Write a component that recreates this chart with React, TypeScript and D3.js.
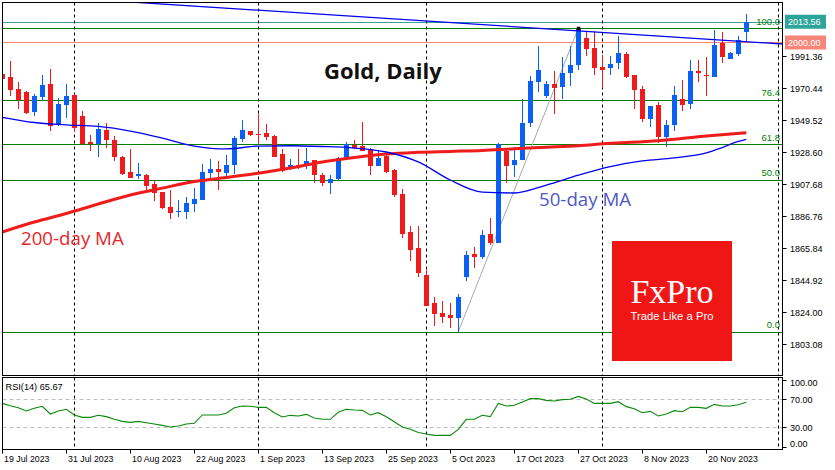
import React from "react";
import * as d3 from "d3";

// ---------------- DATA ----------------
const startDate = "2023-07-19"; // first daily bar (weekdays only)

const opens = [
  1979.4, 1977.4, 1969.6, 1967.6, 1954.7, 1964.5, 1972.9, 1946.5, 1959.3, 1965.7,
  1951.9, 1934.9, 1933.6, 1942.8, 1936.2, 1925.3, 1915.1, 1912.9, 1913.4, 1907.5,
  1902.2, 1892.4, 1889.4, 1889.4, 1894.6, 1897.2, 1914.9, 1917.3, 1914.7, 1920.1,
  1937.1, 1942.1, 1940.4, 1940.8, 1938.9, 1927.1, 1918.1, 1920.1, 1919.4, 1923.2,
  1913.6, 1908.3, 1910.9, 1923.6, 1933.2, 1932.5, 1930.5, 1919.4, 1926.0, 1916.8,
  1900.9, 1876.1, 1865.6, 1848.0, 1829.7, 1823.1, 1822.0, 1820.0, 1846.7, 1861.7,
  1859.7, 1874.8, 1868.9, 1929.0, 1920.1, 1923.2, 1947.5, 1974.4, 1965.0, 1972.7,
  1971.1, 1980.2, 1985.1, 2002.7, 1996.2, 1984.1, 1983.5, 1986.4, 1992.5, 1978.7,
  1969.6, 1950.0, 1959.1, 1938.4, 1946.0, 1962.8, 1959.8, 1981.3, 1978.7, 1977.6,
  1999.5, 1989.4, 1992.5, 2006.8,
];
const highs = [
  1980.7, 1987.9, 1974.2, 1968.0, 1966.1, 1978.7, 1982.7, 1963.7, 1973.1, 1966.0,
  1955.2, 1939.5, 1947.4, 1947.4, 1938.9, 1925.6, 1930.4, 1921.2, 1913.7, 1910.1,
  1902.4, 1903.6, 1897.0, 1899.2, 1905.0, 1920.5, 1923.8, 1922.5, 1926.4, 1938.9,
  1949.3, 1942.4, 1953.3, 1946.7, 1939.5, 1930.4, 1923.8, 1930.4, 1931.2, 1923.5,
  1914.7, 1913.4, 1925.3, 1935.1, 1936.2, 1948.0, 1930.8, 1929.9, 1927.5, 1917.0,
  1904.2, 1880.0, 1880.0, 1851.0, 1833.8, 1830.8, 1829.5, 1835.6, 1863.7, 1866.1,
  1877.6, 1885.2, 1934.0, 1929.7, 1931.9, 1962.8, 1978.1, 1997.7, 1974.5, 1981.3,
  1990.7, 1997.7, 2009.3, 2007.0, 2007.7, 1991.8, 1991.2, 2004.4, 1993.6, 1979.0,
  1971.5, 1958.8, 1961.3, 1949.3, 1971.5, 1975.5, 1988.5, 1988.5, 1990.7, 2008.2,
  2006.6, 1993.6, 2004.2, 2018.6,
];
const lows = [
  1974.8, 1965.2, 1956.7, 1953.3, 1952.1, 1961.9, 1942.3, 1945.6, 1950.8, 1941.3,
  1933.3, 1929.2, 1924.9, 1931.2, 1922.7, 1913.2, 1911.3, 1910.9, 1902.0, 1896.6,
  1891.1, 1884.8, 1886.1, 1884.8, 1889.4, 1897.0, 1911.6, 1903.7, 1912.9, 1914.2,
  1935.1, 1939.1, 1934.5, 1936.4, 1925.0, 1915.5, 1916.4, 1917.5, 1917.1, 1907.9,
  1906.4, 1901.1, 1909.9, 1923.4, 1930.2, 1928.8, 1913.6, 1919.2, 1914.9, 1899.2,
  1872.4, 1857.3, 1846.5, 1827.7, 1814.8, 1816.8, 1813.5, 1810.9, 1844.1, 1852.7,
  1858.4, 1867.6, 1868.7, 1908.3, 1912.2, 1923.0, 1944.5, 1967.8, 1964.0, 1953.3,
  1962.8, 1971.5, 1982.0, 1991.2, 1978.7, 1970.0, 1978.7, 1982.7, 1976.6, 1956.3,
  1947.8, 1944.9, 1934.1, 1931.9, 1942.3, 1955.2, 1956.5, 1974.4, 1965.0, 1977.4,
  1986.8, 1989.2, 1991.2, 2000.1,
];
const closes = [
  1976.1, 1969.1, 1962.2, 1953.7, 1965.0, 1972.0, 1945.6, 1959.8, 1965.0, 1944.3,
  1933.6, 1933.6, 1943.4, 1936.2, 1925.3, 1914.2, 1911.6, 1914.2, 1906.4, 1901.8,
  1891.8, 1888.7, 1890.0, 1895.0, 1897.7, 1915.3, 1917.3, 1915.3, 1919.9, 1937.7,
  1942.8, 1939.7, 1939.7, 1938.4, 1925.3, 1916.0, 1920.1, 1918.8, 1922.5, 1913.6,
  1908.3, 1910.9, 1924.5, 1933.4, 1931.2, 1929.0, 1919.4, 1924.3, 1915.1, 1900.3,
  1874.8, 1864.3, 1849.1, 1827.9, 1822.7, 1820.7, 1820.0, 1833.8, 1861.0, 1859.9,
  1874.1, 1868.9, 1933.6, 1919.4, 1923.2, 1947.5, 1974.8, 1982.0, 1972.7, 1970.4,
  1980.2, 1985.3, 2008.6, 1995.5, 1983.1, 1982.0, 1985.7, 1993.3, 1977.2, 1968.9,
  1949.8, 1958.5, 1938.4, 1945.8, 1965.7, 1959.3, 1981.3, 1980.2, 1978.1, 1998.4,
  1990.7, 1993.3, 2001.6, 2013.56,
];

const rsiValues = [
  64.2, 60.9, 58.0, 53.3, 57.1, 60.0, 49.0, 53.3, 55.7, 47.6,
  44.2, 44.2, 47.1, 45.2, 41.4, 38.5, 37.1, 38.5, 36.6, 34.7,
  32.8, 30.4, 31.9, 34.7, 35.7, 47.6, 47.6, 47.6, 50.0, 58.0,
  60.4, 60.0, 58.5, 58.5, 50.9, 44.7, 47.1, 46.1, 48.5, 43.3,
  41.4, 41.4, 51.4, 55.7, 54.7, 54.2, 47.6, 50.9, 45.2, 38.0,
  30.4, 27.1, 22.5, 20.4, 18.5, 18.5, 18.5, 27.1, 41.4, 41.4,
  47.1, 45.2, 64.2, 60.4, 61.4, 66.1, 70.9, 70.9, 68.5, 67.6,
  69.5, 70.0, 74.2, 70.4, 64.2, 64.2, 64.2, 66.6, 59.5, 56.6,
  50.9, 52.8, 46.1, 49.0, 53.8, 52.3, 58.5, 58.5, 57.1, 62.8,
  60.4, 60.4, 62.3, 65.67,
];

// moving averages, read at sampled bars
const ma50Bars = [0, 4, 8, 12, 16, 20, 24, 28, 32, 36, 40, 44, 48, 52, 56, 60, 64, 68, 72, 76, 80, 84, 88, 90, 92, 93];
const ma50Values = [
  1951.1, 1947.7, 1946.2, 1945.1, 1942.1, 1937.5, 1932.3, 1930.4, 1932.3, 1932.5,
  1932.0, 1931.0, 1928.4, 1921.9, 1910.1, 1902.2, 1901.6, 1906.8, 1913.3, 1918.9,
  1922.6, 1924.5, 1927.8, 1931.3, 1935.3, 1936.7,
];
const ma200Bars = [0, 4, 8, 12, 16, 20, 24, 28, 32, 36, 40, 44, 48, 52, 56, 60, 64, 68, 72, 76, 80, 84, 88, 93];
const ma200Values = [
  1876.1, 1882.6, 1888.2, 1894.4, 1900.3, 1904.8, 1909.1, 1911.7, 1914.5, 1917.9,
  1921.9, 1924.8, 1927.1, 1928.2, 1928.8, 1929.4, 1930.5, 1931.5, 1932.5, 1934.1,
  1935.1, 1936.7, 1938.8, 1941.0,
];

const priceTicks = [1991.36, 1970.44, 1949.52, 1928.6, 1907.68, 1886.76, 1865.84, 1844.92, 1824.0, 1803.08];
const rsiTicks = [100, 70, 30, 0];
const rsiLevels = [70, 30];
const timeTickLabels = [
  "19 Jul 2023", "31 Jul 2023", "10 Aug 2023", "22 Aug 2023", "1 Sep 2023", "13 Sep 2023",
  "25 Sep 2023", "5 Oct 2023", "17 Oct 2023", "27 Oct 2023", "8 Nov 2023", "20 Nov 2023",
];
const separatorDates = ["2023-08-01", "2023-09-01", "2023-10-02", "2023-11-01", "2023-12-01"];

const fibLevels = [0, 50, 61.8, 76.4, 100];
const fibLowBar = 57;
const fibLowPrice = 1810.9;
const fibHighBar = 72;
const fibHighPrice = 2009.3;

const trendBars = [18, 97];
const trendPrices = [2025.8, 1999.2];

const lastPrice = 2013.56;
const roundLevel = 2000.0;
const rsiPeriod = 14;

// ---------------- HELPERS ----------------
function tradingDays(start: string, n: number): Date[] {
  const out: Date[] = [];
  const d = new Date(start + "T00:00:00Z");
  while (out.length < n) {
    const wd = d.getUTCDay();
    if (wd !== 0 && wd !== 6) out.push(new Date(d.getTime()));
    d.setUTCDate(d.getUTCDate() + 1);
  }
  return out;
}
function barIndexOf(start: string, date: string): number {
  const a = new Date(start + "T00:00:00Z");
  const b = new Date(date + "T00:00:00Z");
  let n = 0;
  const d = new Date(a.getTime());
  while (d < b) {
    const wd = d.getUTCDay();
    if (wd !== 0 && wd !== 6) n++;
    d.setUTCDate(d.getUTCDate() + 1);
  }
  return n;
}

const W = 835;
const H = 470;
const L = 2.5;
const R = 782.5;
const T = 2.5;
const B = 375.5;
const RT = 377.5;
const RB = 449.5;

const AXIS_FONT = "'Liberation Sans', Arial, sans-serif";

export default function App() {
  const n = closes.length;
  const dates = tradingDays(startDate, n);
  const fmt = d3.utcFormat("%-d %b %Y");

  const x = d3.scaleLinear().domain([0, 97]).range([2.3, 778.3]);
  const y = d3.scaleLinear().domain([1803.08, 1991.36]).range([343.7, 55.7]);
  const yr = d3.scaleLinear().domain([0, 100]).range([448.3, 378.3]);

  const bull = "#0a5ff5";
  const bear = "#f01a1a";

  const candles = d3.range(n).map((i) => {
    const cx = Math.floor(x(i));
    const o = opens[i], c = closes[i];
    const up = c >= o;
    const yTop = Math.round(y(Math.max(o, c)));
    const yBot = Math.round(y(Math.min(o, c)));
    const col = up ? bull : bear;
    return (
      <g key={i}>
        <line x1={cx + 0.5} x2={cx + 0.5} y1={Math.round(y(highs[i]))} y2={Math.round(y(lows[i]))} stroke={col} strokeWidth={1} />
        <rect x={cx - 2} y={yTop} width={5} height={Math.max(1, yBot - yTop)} fill={col} />
      </g>
    );
  });

  const maLine = d3
    .line<[number, number]>()
    .x((d) => x(d[0]))
    .y((d) => y(d[1]))
    .curve(d3.curveMonotoneX);
  const ma50Path = maLine(ma50Bars.map((b, k) => [b, ma50Values[k]]));
  const ma200Path = maLine(ma200Bars.map((b, k) => [b, ma200Values[k]]));

  const rsiLine = d3
    .line<number>()
    .x((_, i) => x(i))
    .y((v) => yr(v));
  const rsiPath = rsiLine(rsiValues);

  const tickIdx = timeTickLabels.map((lab) => dates.findIndex((d) => fmt(d) === lab));
  const sepIdx = separatorDates.map((d) => barIndexOf(startDate, d));

  const fibRange = fibHighPrice - fibLowPrice;

  // trend line (ray to the right)
  const slope = (trendPrices[1] - trendPrices[0]) / (trendBars[1] - trendBars[0]);
  const trendEndBar = x.invert(R);
  const trendEndPrice = trendPrices[0] + slope * (trendEndBar - trendBars[0]);

  return (
    <div style={{ position: "absolute", left: 0, top: 0 }}>
      <svg width={W} height={H} style={{ display: "block", background: "#fff" }}>
        <defs>
          <clipPath id="plot">
            <rect x={L} y={T} width={R - L} height={B - T} />
          </clipPath>
          <clipPath id="rsi">
            <rect x={L} y={RT} width={R - L} height={RB - RT} />
          </clipPath>
        </defs>

        {/* MAIN PANEL */}
        <g clipPath="url(#plot)">
          {/* fib levels */}
          {fibLevels.map((lv) => {
            const yy = Math.round(y(fibLowPrice + (fibRange * lv) / 100)) + 0.5;
            return <line key={lv} x1={L} x2={R} y1={yy} y2={yy} stroke="#008000" strokeWidth={1.2} />;
          })}
          {/* last price & round level lines */}
          <line x1={L} x2={R} y1={Math.round(y(lastPrice)) + 0.5} y2={Math.round(y(lastPrice)) + 0.5} stroke="#3f9f98" strokeWidth={1} />
          <line x1={L} x2={R} y1={Math.round(y(roundLevel)) + 0.5} y2={Math.round(y(roundLevel)) + 0.5} stroke="#fa8072" strokeWidth={1.2} />
          {/* separators */}
          {sepIdx.map((s) => (
            <line key={s} x1={Math.floor(x(s)) + 0.5} x2={Math.floor(x(s)) + 0.5} y1={T} y2={B} stroke="#000" strokeDasharray="3,3" strokeWidth={1} />
          ))}
          {/* fib diagonal */}
          <line x1={x(fibLowBar)} y1={y(fibLowPrice)} x2={x(fibHighBar)} y2={y(fibHighPrice)} stroke="#a8a8a8" strokeWidth={1} />
          {candles}
          {/* moving averages */}
          <path d={ma200Path || ""} fill="none" stroke="#f01c1c" strokeWidth={3} />
          <path d={ma50Path || ""} fill="none" stroke="#0000f0" strokeWidth={1.3} />
          {/* trendline */}
          <line x1={x(trendBars[0]) - 60} y1={y(trendPrices[0] - slope * (60 / 8))} x2={x(trendEndBar)} y2={y(trendEndPrice)} stroke="#0000f0" strokeWidth={1.3} />
          <rect x={x(fibHighBar) - 1.5} y={y(fibHighPrice) - 1.5} width={3.5} height={3.5} fill="#000" />
          {/* fib labels */}
          {fibLevels.map((lv) => (
            <text key={lv} x={780} y={y(fibLowPrice + (fibRange * lv) / 100) - 3.5} textAnchor="end" fontFamily={AXIS_FONT} fontSize={9.5} fill="#008000">
              {lv.toFixed(1)}
            </text>
          ))}
          {/* annotation texts */}
          <text x={324} y={79} fontFamily="'Open Sans', sans-serif" fontWeight={700} fontSize={22} fill="#111">
            Gold, Daily
          </text>
          <text x={539} y={206} fontFamily="'Open Sans', sans-serif" fontSize={18.7} fill="#5058c8">
            50-day MA
          </text>
          <text x={21} y={245} fontFamily="'Open Sans', sans-serif" fontSize={18.7} fill="#e8262b">
            200-day MA
          </text>
          {/* logo */}
          <rect x={612} y={241} width={120} height={120} fill="#f01616" />
          <text x={672} y={303} textAnchor="middle" fontFamily="'Liberation Serif', serif" fontSize={34} fill="#fff">
            FxPro
          </text>
          <text x={672} y={319.5} textAnchor="middle" fontFamily={AXIS_FONT} fontSize={11.3} fill="#fff">
            Trade Like a Pro
          </text>
        </g>
        <rect x={L} y={T} width={R - L} height={B - T} fill="none" stroke="#000" strokeWidth={1} />

        {/* RSI PANEL */}
        <g clipPath="url(#rsi)">
          {rsiLevels.map((lv) => (
            <line key={lv} x1={L} x2={R} y1={Math.round(yr(lv)) + 0.5} y2={Math.round(yr(lv)) + 0.5} stroke="#c0c0c0" strokeDasharray="4,3" strokeWidth={1} />
          ))}
          {sepIdx.map((s) => (
            <line key={s} x1={Math.floor(x(s)) + 0.5} x2={Math.floor(x(s)) + 0.5} y1={RT} y2={RB} stroke="#000" strokeDasharray="3,3" strokeWidth={1} />
          ))}
          <path d={rsiPath || ""} fill="none" stroke="#0a8a0a" strokeWidth={1.1} />
          <text x={5.5} y={390} fontFamily={AXIS_FONT} fontSize={9.2} fill="#000">
            {`RSI(${rsiPeriod}) ${rsiValues[n - 1].toFixed(2)}`}
          </text>
        </g>
        <rect x={L} y={RT} width={R - L} height={RB - RT} fill="none" stroke="#000" strokeWidth={1} />

        {/* PRICE AXIS */}
        {priceTicks.map((p) => {
          const yy = Math.round(y(p)) + 0.5;
          return (
            <g key={p}>
              <line x1={R} x2={R + 4} y1={yy} y2={yy} stroke="#000" />
              <text x={790} y={yy + 3.3} fontFamily={AXIS_FONT} fontSize={9} fill="#000">
                {p.toFixed(2)}
              </text>
            </g>
          );
        })}
        {[
          { v: roundLevel, col: "#f7857a" },
          { v: lastPrice, col: "#2ea59b" },
        ].map(({ v, col }) => {
          const yy = y(v);
          return (
            <g key={v}>
              <rect x={785} y={yy - 7} width={41} height={14} fill={col} />
              <text x={788} y={yy + 3.3} fontFamily={AXIS_FONT} fontSize={9} fill="#fff">
                {v.toFixed(2)}
              </text>
            </g>
          );
        })}

        {/* RSI AXIS */}
        {rsiTicks.map((v) => {
          const yy = Math.round(yr(v)) + 0.5;
          const ty = Math.min(Math.max(yr(v), 382.7), 443.3);
          return (
            <g key={v}>
              <line x1={R} x2={R + 4} y1={Math.min(Math.max(yy, 380.5), 447.5)} y2={Math.min(Math.max(yy, 380.5), 447.5)} stroke="#000" />
              <text x={790} y={ty + 3.3} fontFamily={AXIS_FONT} fontSize={9} fill="#000">
                {v.toFixed(2)}
              </text>
            </g>
          );
        })}

        {/* TIME AXIS */}
        {tickIdx.map((ti, k) => {
          const xx = Math.floor(x(ti)) + 0.5;
          return (
            <g key={k}>
              <line x1={xx} x2={xx} y1={RB} y2={RB + 4} stroke="#000" />
              <text x={xx + 1.5} y={462} fontFamily={AXIS_FONT} fontSize={8.8} fill="#000">
                {timeTickLabels[k]}
              </text>
            </g>
          );
        })}
      </svg>
    </div>
  );
}
